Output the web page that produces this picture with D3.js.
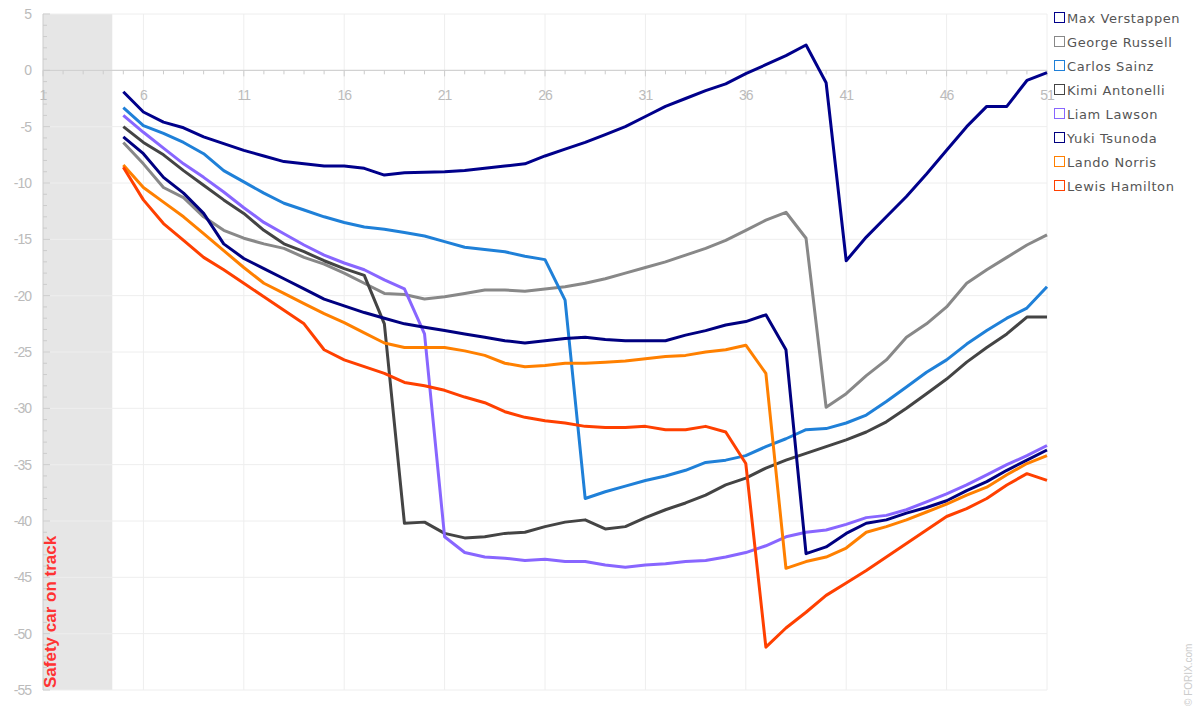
<!DOCTYPE html>
<html>
<head>
<meta charset="utf-8">
<script src="https://cdn.jsdelivr.net/npm/d3@7"></script>
<style>
body { margin: 0; background: #fff; }
svg { font-family: "DejaVu Sans", Verdana, sans-serif; }
</style>
</head>
<body>
<svg id="chart" width="1197" height="719"></svg>
<script>
// gap to leader per lap, laps 5..51
var laps = d3.range(5, 52);
var drivers = ["Max Verstappen", "George Russell", "Carlos Sainz", "Kimi Antonelli", "Liam Lawson", "Yuki Tsunoda", "Lando Norris", "Lewis Hamilton"];
var colors = ["#00008b", "#888888", "#1f80d8", "#444444", "#8866ff", "#000080", "#ff8000", "#ff4000"];

var maxVer = [-1.9,-3.7,-4.6,-5.1,-5.9,-6.5,-7.1,-7.6,-8.1,-8.3,-8.5,-8.5,-8.7,-9.3,-9.1,-9.05,-9.0,-8.9,-8.7,-8.5,-8.3,-7.6,-7.0,-6.4,-5.7,-5.0,-4.1,-3.2,-2.5,-1.8,-1.2,-0.3,0.5,1.3,2.25,-1.1,-16.9,-14.8,-13.0,-11.2,-9.2,-7.1,-5.0,-3.2,-3.2,-0.9,-0.2];
var russell = [-6.4,-8.3,-10.4,-11.3,-13.0,-14.2,-14.9,-15.4,-15.8,-16.6,-17.2,-18.0,-18.9,-19.8,-19.9,-20.3,-20.1,-19.8,-19.5,-19.5,-19.6,-19.4,-19.2,-18.9,-18.5,-18.0,-17.5,-17.0,-16.4,-15.8,-15.1,-14.2,-13.3,-12.6,-14.9,-29.9,-28.7,-27.1,-25.7,-23.7,-22.5,-21.0,-18.9,-17.7,-16.6,-15.5,-14.6];
var sainz = [-3.3,-4.9,-5.6,-6.4,-7.4,-8.9,-9.9,-10.9,-11.8,-12.4,-13.0,-13.5,-13.9,-14.1,-14.4,-14.7,-15.2,-15.7,-15.9,-16.1,-16.5,-16.8,-20.4,-38.0,-37.4,-36.9,-36.4,-36.0,-35.5,-34.8,-34.6,-34.2,-33.4,-32.7,-31.9,-31.8,-31.3,-30.6,-29.4,-28.1,-26.8,-25.7,-24.3,-23.1,-22.0,-21.1,-19.2];
var antonelli = [-5.0,-6.4,-7.5,-8.9,-10.2,-11.5,-12.7,-14.2,-15.4,-16.1,-16.9,-17.6,-18.2,-22.5,-40.2,-40.1,-41.1,-41.5,-41.4,-41.1,-41.0,-40.5,-40.1,-39.9,-40.7,-40.5,-39.7,-39.0,-38.4,-37.7,-36.8,-36.2,-35.3,-34.6,-34.0,-33.4,-32.8,-32.1,-31.2,-30.0,-28.7,-27.4,-25.9,-24.6,-23.4,-21.9,-21.9];
var lawson = [-4.0,-5.5,-6.9,-8.3,-9.5,-10.8,-12.2,-13.5,-14.5,-15.5,-16.4,-17.1,-17.7,-18.6,-19.4,-23.4,-41.4,-42.8,-43.2,-43.3,-43.5,-43.4,-43.6,-43.6,-43.9,-44.1,-43.9,-43.8,-43.6,-43.5,-43.2,-42.8,-42.2,-41.4,-41.0,-40.8,-40.3,-39.7,-39.5,-39.0,-38.3,-37.6,-36.8,-35.9,-35.0,-34.2,-33.3];
var tsunoda = [-5.9,-7.4,-9.5,-10.9,-12.7,-15.4,-16.7,-17.6,-18.5,-19.4,-20.3,-20.9,-21.5,-22.0,-22.5,-22.8,-23.1,-23.4,-23.7,-24.0,-24.2,-24.0,-23.8,-23.7,-23.9,-24.0,-24.0,-24.0,-23.5,-23.1,-22.6,-22.3,-21.7,-24.8,-42.9,-42.3,-41.1,-40.2,-39.9,-39.3,-38.8,-38.2,-37.3,-36.5,-35.5,-34.6,-33.7];
var norris = [-8.4,-10.4,-11.7,-13.0,-14.5,-16.0,-17.5,-18.9,-19.8,-20.7,-21.6,-22.4,-23.3,-24.2,-24.6,-24.6,-24.6,-24.9,-25.3,-26.0,-26.3,-26.2,-26.0,-26.0,-25.9,-25.8,-25.6,-25.4,-25.3,-25.0,-24.8,-24.4,-26.9,-44.2,-43.6,-43.2,-42.4,-41.0,-40.5,-39.9,-39.2,-38.5,-37.7,-37.0,-35.9,-34.9,-34.2];
var hamilton = [-8.6,-11.5,-13.6,-15.1,-16.6,-17.7,-18.9,-20.1,-21.3,-22.5,-24.8,-25.7,-26.3,-26.9,-27.7,-28.0,-28.4,-29.0,-29.5,-30.3,-30.8,-31.1,-31.3,-31.6,-31.7,-31.7,-31.6,-31.9,-31.9,-31.6,-32.1,-34.9,-51.2,-49.5,-48.1,-46.6,-45.5,-44.4,-43.2,-42.0,-40.8,-39.6,-38.9,-38.0,-36.8,-35.8,-36.4];

var yTicks = d3.range(5, -56, -5);
var xTicks = d3.range(1, 52, 5);
var safetyCar = [1, 4.45];

var series = [maxVer, russell, sainz, antonelli, lawson, tsunoda, norris, hamilton];

var svg = d3.select("#chart");
var plotL = 43, plotR = 1047, plotT = 14, plotB = 690;

var x = d3.scaleLinear().domain([1, 51]).range([plotL, plotR]);
var y = d3.scaleLinear().domain([5, -55]).range([plotT, plotB]);

// safety car band
svg.append("rect")
  .attr("x", x(safetyCar[0]))
  .attr("y", plotT)
  .attr("width", x(safetyCar[1]) - x(safetyCar[0]))
  .attr("height", plotB - plotT)
  .attr("fill", "#e6e6e6");

// grid
svg.append("g").selectAll("line").data(yTicks).join("line")
  .attr("x1", plotL).attr("x2", plotR)
  .attr("y1", function(d){ return y(d); }).attr("y2", function(d){ return y(d); })
  .attr("stroke", "#eeeeee");
svg.append("g").selectAll("line").data(xTicks.slice(1)).join("line")
  .attr("x1", function(d){ return x(d); }).attr("x2", function(d){ return x(d); })
  .attr("y1", plotT).attr("y2", plotB)
  .attr("stroke", "#eeeeee");

// y axis
var yAxis = svg.append("g").attr("transform", "translate(" + plotL + ",0)");
yAxis.append("line").attr("y1", plotT).attr("y2", plotB).attr("stroke", "#cccccc");
yAxis.selectAll(".minor").data(d3.range(5, -56, -1)).join("line")
  .attr("x1", 0).attr("x2", function(d){ return d % 5 == 0 ? 7 : 4; })
  .attr("y1", function(d){ return y(d); }).attr("y2", function(d){ return y(d); })
  .attr("stroke", "#cccccc");
yAxis.selectAll("text").data(yTicks).join("text")
  .attr("x", -12).attr("y", function(d){ return y(d) + 5; })
  .attr("text-anchor", "end")
  .attr("fill", "#bbbbbb")
  .attr("font-family", "Liberation Sans, Arial, sans-serif")
  .attr("font-size", 14)
  .style("letter-spacing", "-1px")
  .text(function(d){ return d; });

// x axis on zero line
var xAxis = svg.append("g").attr("transform", "translate(0," + y(0) + ")");
xAxis.append("line").attr("x1", plotL).attr("x2", plotR).attr("stroke", "#cccccc");
xAxis.selectAll(".tick").data(d3.range(1, 52)).join("line")
  .attr("x1", function(d){ return x(d); }).attr("x2", function(d){ return x(d); })
  .attr("y1", 0).attr("y2", function(d){ return (d - 1) % 5 == 0 ? 6 : 4; })
  .attr("stroke", "#cccccc");
xAxis.selectAll("text").data(xTicks).join("text")
  .attr("x", function(d){ return x(d); }).attr("y", 30)
  .attr("text-anchor", "middle")
  .attr("fill", "#bbbbbb")
  .attr("font-family", "Liberation Sans, Arial, sans-serif")
  .attr("font-size", 14)
  .style("letter-spacing", "-1px")
  .text(function(d){ return d; });

svg.append("text")
  .attr("transform", "translate(56," + (plotB - 2) + ") rotate(-90)")
  .attr("fill", "#ff3333")
  .attr("font-family", "Liberation Sans, Arial, sans-serif")
  .attr("font-weight", "bold")
  .attr("font-size", 17)
  .text("Safety car on track");

// lines
var line = d3.line()
  .x(function(d, i){ return x(laps[i]); })
  .y(function(d){ return y(d); });

svg.append("g").selectAll("path").data(series).join("path")
  .attr("d", line)
  .attr("fill", "none")
  .attr("stroke", function(d, i){ return colors[i]; })
  .attr("stroke-width", 3)
  .attr("stroke-linejoin", "round");

// legend
var legend = svg.append("g").attr("transform", "translate(1054,12)");
var item = legend.selectAll("g").data(drivers).join("g")
  .attr("transform", function(d, i){ return "translate(0," + (i * 24) + ")"; });
item.append("rect")
  .attr("x", 0.5).attr("y", 0.5).attr("width", 10).attr("height", 10)
  .attr("fill", "#fff")
  .attr("stroke", function(d, i){ return colors[i]; });
item.append("text")
  .attr("x", 13).attr("y", 10.5)
  .attr("fill", "#555555")
  .attr("font-size", 13)
  .style("letter-spacing", "0.6px")
  .text(function(d){ return d; });

svg.append("text")
  .attr("transform", "translate(1192,706) rotate(-90)")
  .attr("fill", "#cccccc")
  .attr("font-family", "Liberation Sans, Arial, sans-serif")
  .attr("font-size", 10)
  .text("© FORIX.com");
</script>
</body>
</html>
